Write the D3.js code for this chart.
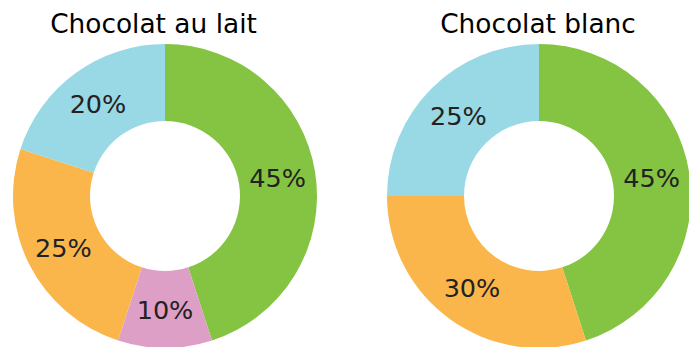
<!DOCTYPE html>
<html>
<head>
<meta charset="utf-8">
<script src="https://cdn.jsdelivr.net/npm/d3@7"></script>
<style>
  html, body { margin: 0; padding: 0; background: #fff; }
  svg { display: block; }
</style>
</head>
<body>
<svg id="chart" width="689" height="347"></svg>
<script>
// Chocolate preference shares, one donut per chocolate type
const titles = ["Chocolat au lait", "Chocolat blanc"];
const laitLabels = ["A", "B", "C", "D"];
const laitValues = [45, 10, 25, 20];
const blancLabels = ["A", "C", "D"];
const blancValues = [45, 30, 25];
const colorDomain = ["A", "B", "C", "D"];
const colorRange = ["#85c442", "#dd9fc6", "#fbb64b", "#99d8e5"];

const svg = d3.select("#chart");
const color = d3.scaleOrdinal().domain(colorDomain).range(colorRange);

// layout
const outerR = 152, innerR = 75, labelR = 114;
const centers = [[165, 196], [539, 196]];
const titleX = [153.5, 538];

const datasets = [
  laitLabels.map((k, i) => ({ key: k, value: laitValues[i] })),
  blancLabels.map((k, i) => ({ key: k, value: blancValues[i] }))
];

const pie = d3.pie().value(d => d.value).sort(null);
const arc = d3.arc().innerRadius(innerR).outerRadius(outerR);
const labelArc = d3.arc().innerRadius(labelR).outerRadius(labelR);

datasets.forEach((data, j) => {
  const g = svg.append("g").attr("transform", `translate(${centers[j][0]},${centers[j][1]})`);
  const arcs = pie(data);
  g.selectAll("path").data(arcs).join("path")
    .attr("d", arc)
    .attr("fill", d => color(d.data.key));
  g.selectAll("text.pct").data(arcs).join("text")
    .attr("class", "pct")
    .attr("transform", d => `translate(${labelArc.centroid(d)})`)
    .attr("text-anchor", "middle")
    .attr("dy", "0.36em")
    .attr("font-family", "DejaVu Sans")
    .attr("font-size", 25.5)
    .attr("fill", "#222")
    .text(d => d.data.value + "%");
  svg.append("text")
    .attr("x", titleX[j])
    .attr("y", 33)
    .attr("text-anchor", "middle")
    .attr("font-family", "DejaVu Sans")
    .attr("font-size", 26.4)
    .attr("fill", "#000")
    .text(titles[j]);
});
</script>
</body>
</html>
